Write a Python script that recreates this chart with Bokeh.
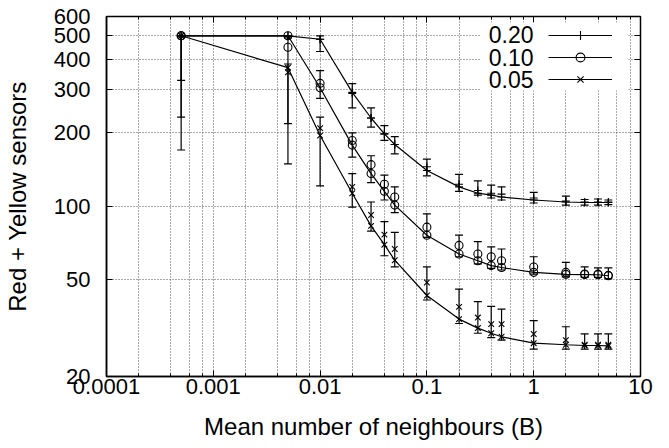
from bokeh.plotting import figure
from bokeh.models import (FixedTicker, Whisker, TeeHead, ColumnDataSource, Legend,
                          LegendItem, Label, BoxAnnotation, Range1d, LogAxis)
from bokeh.embed import file_html
from bokeh.resources import INLINE

# ---------------- data ----------------
x = [0.0005, 0.005, 0.01, 0.02, 0.03, 0.04, 0.05, 0.1, 0.2, 0.3, 0.4, 0.5, 1, 2, 3, 4, 5]

line_20 = [500, 500, 484, 293, 230, 198, 179, 140, 120, 113, 111, 109, 106, 104, 103.5, 103.5, 103.5]
mean_20 = [500, 500, 484, 290, 230, 198, 179, 145, 123, 116, 113, 112, 108, 105, 104, 104, 104]
low_20 = [328, 490, 431, 253, 211, 186, 164, 133, 115, 111, 108, 106, 103, 101, 101, 101, 101.5]
high_20 = [500, 500, 500, 318, 253, 214, 193, 156, 135, 127, 122, 120, 114, 110, 106.5, 107, 106]

line_10 = [500, 500, 306, 178, 136, 115, 101, 76, 63.6, 59.7, 57, 56, 53.5, 52.5, 52.4, 52.3, 51.8]
mean_10 = [500, 449, 319, 186, 148, 123, 109, 82, 69, 63.6, 62, 59.7, 56.3, 53.5, 52.7, 52.6, 52]
low_10 = [232, 218, 277, 159, 125, 106, 94, 74.5, 62, 58, 55.5, 54.7, 52.6, 51.3, 51, 51, 50.4]
high_10 = [500, 500, 360, 200, 161, 134, 120, 93, 76, 71.5, 68, 66.7, 62, 58.8, 56.3, 55.8, 55.8]

line_05 = [500, 370, 195, 113, 83, 69.5, 60, 43, 34.4, 31.6, 30.1, 29.1, 27.4, 27, 26.8, 26.8, 26.7]
mean_05 = [500, 354, 209, 120, 92, 76.4, 66.7, 48.6, 38.6, 34.9, 32.8, 32.8, 29.9, 28.2, 27, 27, 27]
low_05 = [170, 149, 121, 99, 79, 62.6, 56.3, 41.2, 33, 30.1, 28.9, 28.2, 25.9, 25.9, 25.9, 25.9, 25.9]
high_05 = [500, 383, 232, 136, 104, 86.4, 78, 56.3, 45.7, 40.6, 38.8, 37.8, 33.9, 32, 29.9, 29.9, 29.9]

series_names = ["0.20", "0.10", "0.05"]
markers = ["cross", "circle", "x"]

xticks = [0.0001, 0.001, 0.01, 0.1, 1, 10]
xtick_labels = ["0.0001", "0.001", "0.01", "0.1", "1", "10"]
xminor = [m * d for d in [0.0001, 0.001, 0.01, 0.1, 1] for m in (2, 4, 6, 8)]
yticks = [20, 50, 100, 200, 300, 400, 500, 600]
ytick_labels = ["20", "50", "100", "200", "300", "400", "500", "600"]

FONT = "Liberation Sans"
TICK_FS = "22px"
TITLE_FS = "24px"

p = figure(width=669, height=448, x_axis_type="log", y_axis_type="log",
           x_range=Range1d(0.0001, 10), y_range=Range1d(20, 600),
           output_backend="svg", toolbar_location=None,
           min_border_left=106, min_border_right=29, min_border_top=16, min_border_bottom=72)
p.background_fill_color = "white"
p.border_fill_color = "white"
p.outline_line_color = "black"
p.outline_line_width = 1.5

p.xaxis.ticker = FixedTicker(ticks=xticks, minor_ticks=xminor)
p.yaxis.ticker = FixedTicker(ticks=yticks)
p.xaxis.major_label_overrides = dict(zip(xticks, xtick_labels))
p.yaxis.major_label_overrides = dict(zip(yticks, ytick_labels))
p.xaxis.axis_label = "Mean number of neighbours (B)"
p.yaxis.axis_label = "Red + Yellow sensors"
for ax in (p.xaxis[0], p.yaxis[0]):
    ax.major_label_text_font = FONT
    ax.major_label_text_font_size = TICK_FS
    ax.major_label_text_color = "black"
    ax.axis_label_text_font = FONT
    ax.axis_label_text_font_size = TITLE_FS
    ax.axis_label_text_font_style = "normal"
    ax.axis_label_text_color = "black"
    ax.major_tick_in = 6
    ax.major_tick_out = 0
    ax.minor_tick_in = 3
    ax.minor_tick_out = 0
    ax.axis_line_width = 1.5
    ax.major_tick_line_width = 1
p.xaxis.major_label_standoff = 2
p.xaxis.axis_label_standoff = 16
p.yaxis.major_label_standoff = 16
p.yaxis.axis_label_standoff = 20

# mirrored tick axes (top / right), labels invisible
top_ax = LogAxis(ticker=FixedTicker(ticks=xticks, minor_ticks=xminor),
                 major_label_text_font_size="1px", major_label_text_alpha=0,
                 major_label_standoff=0,
                 major_tick_in=6, major_tick_out=0, minor_tick_in=3, minor_tick_out=0,
                 axis_line_color=None)
right_ax = LogAxis(ticker=FixedTicker(ticks=yticks),
                   major_label_text_font_size="1px", major_label_text_alpha=0,
                   major_label_standoff=0,
                   major_tick_in=6, major_tick_out=0, minor_tick_in=3, minor_tick_out=0,
                   axis_line_color=None)
p.add_layout(top_ax, "above")
p.add_layout(right_ax, "right")

for g in (p.xgrid[0], p.ygrid[0]):
    g.grid_line_color = "#555555"
    g.grid_line_dash = "1 2"
    g.grid_line_width = 1
p.xgrid.minor_grid_line_color = "#555555"
p.xgrid.minor_grid_line_dash = "1 2"

legend_items = []
all_data = [(line_20, mean_20, low_20, high_20),
            (line_10, mean_10, low_10, high_10),
            (line_05, mean_05, low_05, high_05)]
for name, mk, (ln, mn, lo, hi) in zip(series_names, markers, all_data):
    src = ColumnDataSource(dict(x=x, line=ln, mean=mn, low=lo, high=hi))
    wh = Whisker(source=src, base="x", upper="high", lower="low", dimension="height",
                 line_color="black", line_width=1.2,
                 upper_head=TeeHead(size=8, line_color="black", line_width=1.2),
                 lower_head=TeeHead(size=8, line_color="black", line_width=1.2))
    p.add_layout(wh)
    p.scatter("x", "mean", source=src, marker=mk, size=8, line_color="black",
              fill_alpha=0, line_width=1.1)
    lr = p.line("x", "line", source=src, line_color="black", line_width=1.2)
    sr = p.scatter("x", "line", source=src, marker=mk, size=8, line_color="black",
                   fill_alpha=0, line_width=1.1)
    legend_items.append(LegendItem(label="", renderers=[lr, sr]))

# legend: white box, labels to the left of the samples
box = BoxAnnotation(left=480, right=628, top=22, bottom=90,
                    left_units="canvas", right_units="canvas",
                    top_units="canvas", bottom_units="canvas",
                    fill_color="white", fill_alpha=1, line_alpha=0)
p.add_layout(box)
legend = Legend(items=legend_items, location=(442, 286), glyph_width=64, glyph_height=22,
                spacing=0, padding=0, margin=0, label_standoff=0, label_width=0,
                label_text_font_size="10px", label_text_alpha=0,
                background_fill_alpha=0, border_line_alpha=0)
p.add_layout(legend)
for i, name in enumerate(series_names):
    p.add_layout(Label(x=533, y=34 + 22.5 * i, x_units="canvas", y_units="canvas",
                       text=name, text_align="right", text_baseline="middle",
                       text_font=FONT, text_font_size="23px", text_color="black"))

open("out.html", "w").write(file_html(p, INLINE))
